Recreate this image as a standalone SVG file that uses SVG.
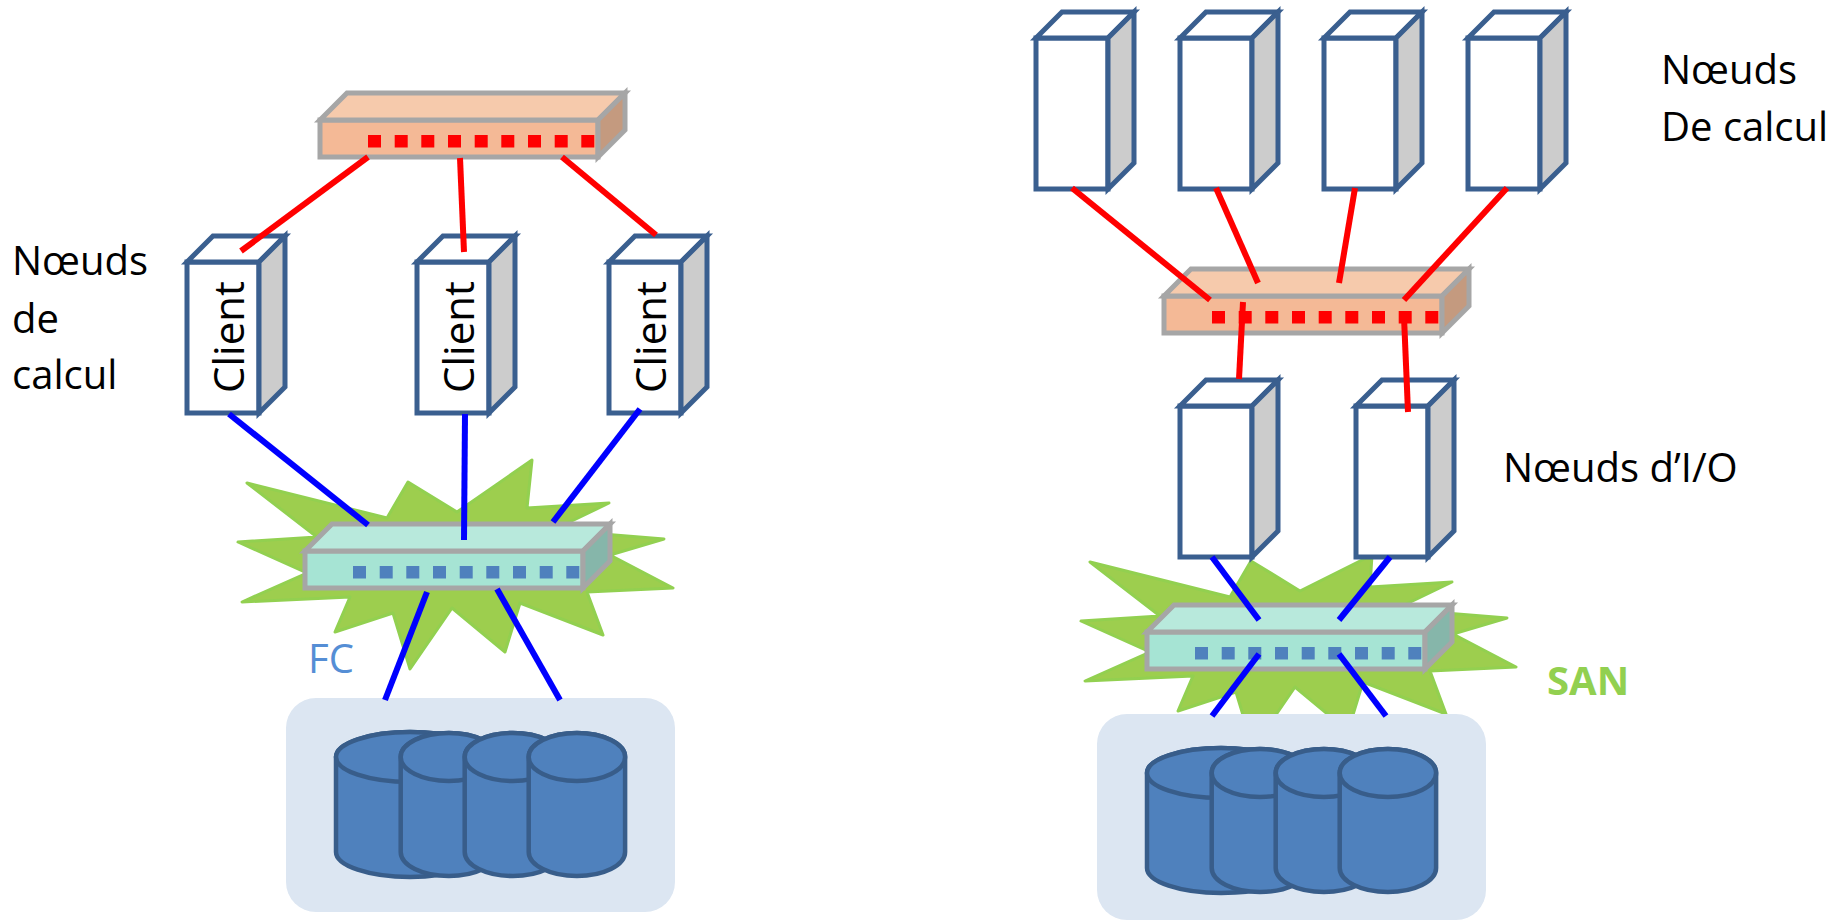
<svg xmlns="http://www.w3.org/2000/svg" xmlns:xlink="http://www.w3.org/1999/xlink" width="1847" height="921" viewBox="0 0 1847 921">
  <style>
    .face { fill: #FFFFFF; stroke: #3A5F8F; stroke-width: 5; }
    .side { fill: #CCCCCC; stroke: #3A5F8F; stroke-width: 5; }
    .sw { stroke: #A6A6A6; stroke-width: 5; }
    .org-front { fill: #F4B996; }
    .org-top { fill: #F6CAAC; }
    .org-side { fill: #C49A7F; }
    .teal-front { fill: #A6E4D4; }
    .teal-top { fill: #B8E9DC; }
    .teal-side { fill: #86B6AA; }
    .dot-red { fill: #FF0000; }
    .dot-blue { fill: #4F81BD; }
    .burst { fill: #9DCE4E; stroke: #92D050; stroke-width: 3; stroke-linejoin: round; }
    .store { fill: #DCE6F2; }
    .cyl { fill: #4F81BD; stroke: #385D8A; stroke-width: 4.5; }
    .red { stroke: #FF0000; stroke-width: 6; fill: none; }
    .blue { stroke: #0000FF; stroke-width: 6; fill: none; }
    .lbl { font-family: "Open Sans", "Liberation Sans", sans-serif; font-size: 40px; fill: #000000; }
    .client { font-family: "Open Sans", "Liberation Sans", sans-serif; font-size: 42px; fill: #000000; text-anchor: middle; }
  </style>
  <defs>
    <!-- tower server: front face, top face and shaded side -->
    <g id="tower">
      <rect class="face" x="0" y="0" width="72" height="151"/>
      <polygon class="face" points="0,0 26,-26 98,-26 72,0"/>
      <polygon class="side" points="72,0 98,-26 98,125 72,151"/>
    </g>
    <g id="ports-red" class="dot-red">
      <rect x="48" y="15" width="13" height="12.5"/>
      <rect x="74.7" y="15" width="13" height="12.5"/>
      <rect x="101.3" y="15" width="13" height="12.5"/>
      <rect x="128" y="15" width="13" height="12.5"/>
      <rect x="154.7" y="15" width="13" height="12.5"/>
      <rect x="181.3" y="15" width="13" height="12.5"/>
      <rect x="208" y="15" width="13" height="12.5"/>
      <rect x="234.7" y="15" width="13" height="12.5"/>
      <rect x="261.3" y="15" width="13" height="12.5"/>
    </g>
    <g id="ports-blue" class="dot-blue">
      <rect x="48" y="15" width="13" height="12.5"/>
      <rect x="74.7" y="15" width="13" height="12.5"/>
      <rect x="101.3" y="15" width="13" height="12.5"/>
      <rect x="128" y="15" width="13" height="12.5"/>
      <rect x="154.7" y="15" width="13" height="12.5"/>
      <rect x="181.3" y="15" width="13" height="12.5"/>
      <rect x="208" y="15" width="13" height="12.5"/>
      <rect x="234.7" y="15" width="13" height="12.5"/>
      <rect x="261.3" y="15" width="13" height="12.5"/>
    </g>
    <!-- Ethernet switch (orange) -->
    <g id="switch-eth">
      <rect class="sw org-front" x="0" y="0" width="278" height="37"/>
      <use xlink:href="#ports-red"/>
      <polygon class="sw org-top" points="0,0 27,-27 305,-27 278,0"/>
      <polygon class="sw org-side" points="278,0 305,-27 305,10 278,37"/>
    </g>
    <!-- Fibre Channel switch (teal) -->
    <g id="switch-fc">
      <rect class="sw teal-front" x="0" y="0" width="278" height="37"/>
      <use xlink:href="#ports-blue"/>
      <polygon class="sw teal-top" points="0,0 27,-27 305,-27 278,0"/>
      <polygon class="sw teal-side" points="278,0 305,-27 305,10 278,37"/>
    </g>
    <!-- disk array: four overlapping cylinders, origin at top-ellipse centre line -->
    <g id="disks">
      <path class="cyl" d="M -74,0 L -74,95 A 74 25 0 0 0 74,95 L 74,0 A 74 25 0 0 0 -74,0 Z"/>
      <ellipse class="cyl" cx="0" cy="0" rx="74" ry="25"/>
      <path class="cyl" d="M -9.3,0 L -9.3,95 A 48.2 24 0 0 0 87.1,95 L 87.1,0 A 48.2 24 0 0 0 -9.3,0 Z"/>
      <ellipse class="cyl" cx="38.9" cy="0" rx="48.2" ry="24"/>
      <path class="cyl" d="M 54.7,0 L 54.7,95 A 48.2 24 0 0 0 151.1,95 L 151.1,0 A 48.2 24 0 0 0 54.7,0 Z"/>
      <ellipse class="cyl" cx="102.9" cy="0" rx="48.2" ry="24"/>
      <path class="cyl" d="M 118.7,0 L 118.7,95 A 48.2 24 0 0 0 215.1,95 L 215.1,0 A 48.2 24 0 0 0 118.7,0 Z"/>
      <ellipse class="cyl" cx="166.9" cy="0" rx="48.2" ry="24"/>
    </g>
  </defs>

  <!-- Left: cluster with shared FC storage -->
  <g id="fc-burst">
    <polygon class="burst" points="247,483 387,518 408,482 457,512 532,460 527,508 609,503 553,530 664,539 610,555 673,588 587,592 603,635 520,603 505,652 452,608 410,669 393,613 335,632 350,597 242,602 307,573 238,542 317,537"/>
  </g>
  <g id="fc-storage">
    <rect class="store" x="286" y="698" width="389" height="214" rx="30" ry="30"/>
    <use xlink:href="#disks" transform="translate(410,757)"/>
  </g>
  <g id="switch-top-left" transform="translate(320,120)">
    <use xlink:href="#switch-eth"/>
  </g>
  <g id="client-1" transform="translate(187,262)">
    <use xlink:href="#tower"/>
    <text class="client" transform="translate(57,75) rotate(-90)">Client</text>
  </g>
  <g id="client-2" transform="translate(417,262)">
    <use xlink:href="#tower"/>
    <text class="client" transform="translate(57,75) rotate(-90)">Client</text>
  </g>
  <g id="client-3" transform="translate(609,262)">
    <use xlink:href="#tower"/>
    <text class="client" transform="translate(57,75) rotate(-90)">Client</text>
  </g>
  <g id="switch-fc-left" transform="translate(305,551)">
    <use xlink:href="#switch-fc"/>
  </g>

  <!-- Right: cluster with I/O nodes and SAN -->
  <g id="san-burst">
    <polygon class="burst" points="1090,562 1230,597 1251,561 1300,591 1372,555 1370,587 1452,582 1396,609 1507,618 1453,634 1516,667 1430,671 1446,714 1363,682 1348,731 1295,687 1253,748 1236,692 1178,711 1193,676 1085,681 1150,652 1081,621 1160,616"/>
  </g>
  <g id="san-storage">
    <rect class="store" x="1097" y="714" width="389" height="206" rx="30" ry="30"/>
    <use xlink:href="#disks" transform="translate(1221,773)"/>
  </g>
  <g id="compute-1" transform="translate(1036,38)"><use xlink:href="#tower"/></g>
  <g id="compute-2" transform="translate(1180,38)"><use xlink:href="#tower"/></g>
  <g id="compute-3" transform="translate(1324,38)"><use xlink:href="#tower"/></g>
  <g id="compute-4" transform="translate(1468,38)"><use xlink:href="#tower"/></g>
  <g id="switch-top-right" transform="translate(1164,296)">
    <use xlink:href="#switch-eth"/>
  </g>
  <g id="io-1" transform="translate(1180,406)"><use xlink:href="#tower"/></g>
  <g id="io-2" transform="translate(1356,406)"><use xlink:href="#tower"/></g>
  <g id="switch-san" transform="translate(1147,632)">
    <use xlink:href="#switch-fc"/>
  </g>

  <!-- links -->
  <g id="connectors">
    <line class="red" x1="368" y1="157" x2="241" y2="251"/>
    <line class="red" x1="460" y1="158" x2="464" y2="252"/>
    <line class="red" x1="562" y1="157" x2="656" y2="235"/>
    <line class="blue" x1="229" y1="414" x2="368" y2="525"/>
    <line class="blue" x1="465" y1="414" x2="464" y2="540"/>
    <line class="blue" x1="640" y1="409" x2="553" y2="522"/>
    <line class="blue" x1="427" y1="592" x2="385" y2="700"/>
    <line class="blue" x1="497" y1="589" x2="560" y2="700"/>

    <line class="red" x1="1072" y1="188" x2="1210" y2="300"/>
    <line class="red" x1="1216" y1="188" x2="1258" y2="283"/>
    <line class="red" x1="1355" y1="188" x2="1339" y2="283"/>
    <line class="red" x1="1507" y1="188" x2="1404" y2="300"/>
    <line class="red" x1="1243" y1="302" x2="1239" y2="379"/>
    <line class="red" x1="1404" y1="317" x2="1408" y2="412"/>
    <line class="blue" x1="1212" y1="557" x2="1259" y2="620"/>
    <line class="blue" x1="1390" y1="557" x2="1339" y2="620"/>
    <line class="blue" x1="1259" y1="654" x2="1212" y2="716"/>
    <line class="blue" x1="1339" y1="654" x2="1386" y2="716"/>
  </g>

  <!-- labels -->
  <g id="labels">
    <text class="lbl" x="12" y="275">Nœuds</text>
    <text class="lbl" x="12" y="333">de</text>
    <text class="lbl" x="12" y="389">calcul</text>
    <text class="lbl" x="308" y="673" style="fill:#558ED5">FC</text>
    <text class="lbl" x="1661" y="84">Nœuds</text>
    <text class="lbl" x="1661" y="141">De calcul</text>
    <text class="lbl" x="1503" y="482">Nœuds d’I/O</text>
    <text class="lbl" x="1547" y="695" style="fill:#92D050;font-weight:bold">SAN</text>
  </g>
</svg>
